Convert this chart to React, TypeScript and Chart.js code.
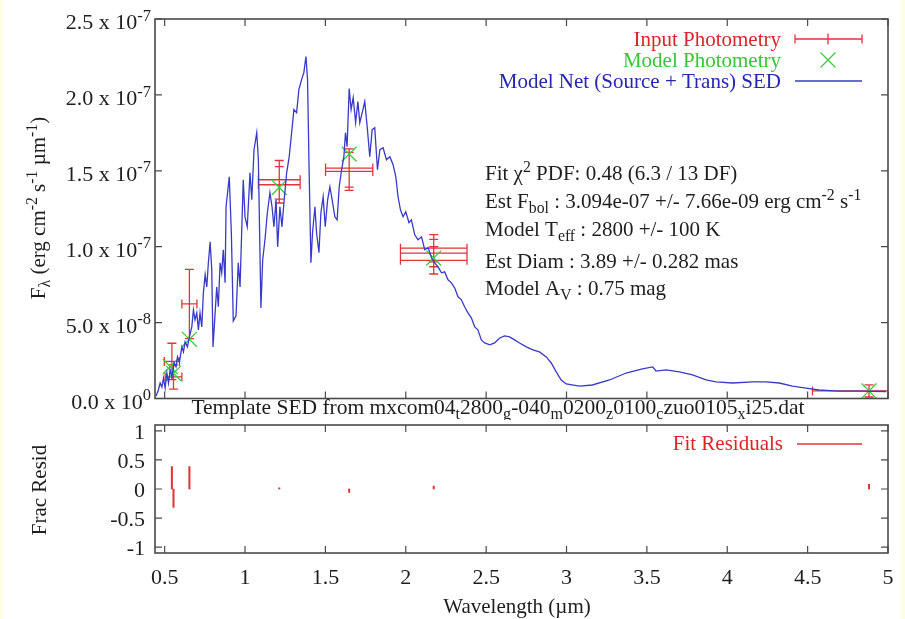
import React, { useEffect, useRef } from "react";
import { Chart, registerables } from "chart.js";

Chart.register(...registerables);

const SERIF = '"Liberation Serif", "Times New Roman", "DejaVu Serif", serif';
const FS = 21;

// Model net SED: wavelength (µm) and flux (units of 1e-7 erg cm^-2 s^-1 µm^-1)
const sedWave = [
  0.447, 0.461, 0.472, 0.483, 0.493, 0.503, 0.514, 0.524, 0.534, 0.545,
  0.559, 0.571, 0.58, 0.592, 0.607, 0.617, 0.627, 0.642, 0.654, 0.669,
  0.679, 0.689, 0.7, 0.71, 0.72, 0.731, 0.741, 0.752, 0.762, 0.772,
  0.783, 0.793, 0.801, 0.814, 0.824, 0.834, 0.845, 0.855, 0.865, 0.876,
  0.882, 0.902, 0.915, 0.927, 0.944, 0.958, 0.969, 0.989, 1.0, 1.014,
  1.031, 1.042, 1.056, 1.073, 1.083, 1.099, 1.11, 1.124, 1.139, 1.155,
  1.168, 1.18, 1.193, 1.203, 1.217, 1.23, 1.242, 1.259, 1.275, 1.29,
  1.304, 1.321, 1.335, 1.352, 1.366, 1.379, 1.389, 1.399, 1.41, 1.42,
  1.435, 1.445, 1.46, 1.472, 1.486, 1.499, 1.514, 1.528, 1.545, 1.559,
  1.573, 1.586, 1.601, 1.615, 1.625, 1.635, 1.648, 1.66, 1.673, 1.688,
  1.702, 1.714, 1.729, 1.745, 1.76, 1.776, 1.791, 1.807, 1.824, 1.839,
  1.859, 1.88, 1.901, 1.921, 1.938, 1.952, 1.967, 1.983, 2.0, 2.02,
  2.035, 2.056, 2.076, 2.098, 2.118, 2.139, 2.16, 2.18, 2.201, 2.222,
  2.242, 2.263, 2.284, 2.304, 2.325, 2.346, 2.366, 2.387, 2.408, 2.429,
  2.449, 2.47, 2.491, 2.522, 2.553, 2.584, 2.615, 2.646, 2.677, 2.708,
  2.75, 2.791, 2.832, 2.874, 2.905, 2.936, 2.967, 2.998, 3.081, 3.161,
  3.267, 3.371, 3.472, 3.536, 3.557, 3.619, 3.702, 3.784, 3.868, 3.93,
  4.033, 4.157, 4.24, 4.323, 4.406, 4.489, 4.571, 4.696, 4.82, 4.988,
];
const sedFlux = [
  0.016, 0.056, 0.102, 0.076, 0.135, 0.069, 0.168, 0.102, 0.188, 0.142,
  0.234, 0.208, 0.274, 0.241, 0.34, 0.307, 0.373, 0.34, 0.406, 0.472,
  0.584, 0.518, 0.564, 0.452, 0.564, 0.472, 0.696, 0.815, 0.735, 0.894,
  1.032, 0.848, 0.34, 0.564, 0.735, 0.604, 0.894, 0.828, 0.98, 0.762,
  1.263, 1.461, 1.092, 0.511, 0.544, 0.894, 0.735, 1.441, 1.197, 1.131,
  1.487, 1.309, 1.639, 1.751, 1.573, 0.597, 0.914, 1.046, 1.224, 1.356,
  1.263, 1.131, 1.309, 0.999, 1.263, 1.131, 1.29, 1.487, 1.593, 1.751,
  1.903, 1.883, 2.035, 2.101, 2.147, 2.253, 2.101, 1.487, 0.894, 1.092,
  1.263, 1.092, 0.96, 1.224, 1.329, 1.131, 1.309, 1.395, 1.29, 1.197,
  1.177, 1.395, 1.507, 1.593, 1.751, 1.659, 2.042, 1.903, 1.982, 1.817,
  1.956, 1.817, 1.883, 1.956, 1.791, 1.593, 1.771, 1.784, 1.507, 1.639,
  1.652, 1.573, 1.593, 1.54, 1.461, 1.329, 1.243, 1.197, 1.23, 1.158,
  1.177, 1.078, 1.046, 1.065, 0.98, 0.993, 0.927, 0.894, 0.867, 0.828,
  0.834, 0.782, 0.762, 0.729, 0.67, 0.65, 0.604, 0.564, 0.531, 0.472,
  0.452, 0.386, 0.366, 0.353, 0.366, 0.399, 0.412, 0.406, 0.386, 0.366,
  0.34, 0.32, 0.307, 0.274, 0.234, 0.175, 0.122, 0.096, 0.082, 0.089,
  0.122, 0.168, 0.195, 0.208, 0.181, 0.188, 0.175, 0.155, 0.122, 0.109,
  0.102, 0.109, 0.109, 0.102, 0.082, 0.069, 0.056, 0.049, 0.049, 0.046,
];

// Input photometry with errors (same flux units)
const photWave = [0.545, 0.555, 0.654, 1.213, 1.213, 1.648, 1.648, 2.174, 2.174, 2.174, 4.882];
const photWaveErr = [0.047, 0.052, 0.047, 0.13, 0.13, 0.147, 0.147, 0.207, 0.207, 0.207, 0.352];
const photFlux = [0.244, 0.142, 0.623, 1.441, 1.408, 1.518, 1.496, 0.99, 0.958, 0.91, 0.05];
const photFluxErr = [0.12, 0.08, 0.228, 0.127, 0.12, 0.126, 0.125, 0.09, 0.09, 0.09, 0.04];

// Model photometry
const modelWave = [0.535, 0.555, 0.654, 1.213, 1.648, 2.174, 4.882];
const modelFlux = [0.21, 0.166, 0.39, 1.39, 1.61, 0.925, 0.05];

// Fractional residuals
const residWave = [0.545, 0.555, 0.654, 1.213, 1.648, 2.174, 4.882];
const residValue = [0.385, -0.316, 0.385, 0.02, -0.06, 0.05, 0.08];

// Axes
const xTicks = [0.5, 1, 1.5, 2, 2.5, 3, 3.5, 4, 4.5, 5];
const xTickLabels = ["0.5", "1", "1.5", "2", "2.5", "3", "3.5", "4", "4.5", "5"];
const fluxTicks = [0, 0.5, 1, 1.5, 2, 2.5];
const fluxTickMantissa = ["0.0 x 10", "5.0 x 10", "1.0 x 10", "1.5 x 10", "2.0 x 10", "2.5 x 10"];
const fluxTickExponent = ["0", "-8", "-7", "-7", "-7", "-7"];
const residTicks = [-1, -0.5, 0, 0.5, 1];
const residTickLabels = ["-1", "-0.5", "0", "0.5", "1"];

const AXIS = "#4a4a4a";
const TEXT = "#1e1e1e";
const RED = "#e0353a";
const RED_TEXT = "#d8262b";
const GREEN = "#3ccc3c";
const GREEN_TEXT = "#38c438";
const BLUE = "#3a3ac8";
const BLUE_TEXT = "#2626b0";
const TICK = 7;
const CAP = 4.5;

type Seg = [string, number]; // 0 normal, 1 superscript, -1 subscript

function segFont(kind: number, size: number) {
  return `${kind === 0 ? size : size * 0.75}px ${SERIF}`;
}

function richWidth(ctx: CanvasRenderingContext2D, segs: Seg[], size: number) {
  let w = 0;
  for (const [t, k] of segs) {
    ctx.font = segFont(k, size);
    w += ctx.measureText(t).width;
  }
  return w;
}

function drawRich(
  ctx: CanvasRenderingContext2D,
  segs: Seg[],
  x: number,
  y: number,
  color: string,
  align: "left" | "right" | "center" = "left",
  size = FS
) {
  const w = richWidth(ctx, segs, size);
  let cx = align === "left" ? x : align === "right" ? x - w : x - w / 2;
  ctx.save();
  ctx.fillStyle = color;
  ctx.textAlign = "left";
  ctx.textBaseline = "alphabetic";
  for (const [t, k] of segs) {
    ctx.font = segFont(k, size);
    const dy = k === 1 ? -size * 0.38 : k === -1 ? size * 0.24 : 0;
    ctx.fillText(t, cx, y + dy);
    cx += ctx.measureText(t).width;
  }
  ctx.restore();
}

function drawFrame(chart: any, yVals: number[]) {
  const ctx: CanvasRenderingContext2D = chart.ctx;
  const { left, right, top, bottom } = chart.chartArea;
  const xs = chart.scales.x;
  const ys = chart.scales.y;
  ctx.save();
  ctx.strokeStyle = AXIS;
  ctx.lineWidth = 1.2;
  ctx.beginPath();
  for (const v of xTicks) {
    const px = xs.getPixelForValue(v);
    ctx.moveTo(px, bottom);
    ctx.lineTo(px, bottom - TICK);
    ctx.moveTo(px, top);
    ctx.lineTo(px, top + TICK);
  }
  for (const v of yVals) {
    const py = ys.getPixelForValue(v);
    ctx.moveTo(left, py);
    ctx.lineTo(left + TICK, py);
    ctx.moveTo(right, py);
    ctx.lineTo(right - TICK, py);
  }
  ctx.stroke();
  ctx.lineWidth = 1.6;
  ctx.strokeRect(left, top, right - left, bottom - top);
  ctx.restore();
}

function drawRotated(ctx: CanvasRenderingContext2D, segs: Seg[], x: number, y: number) {
  ctx.save();
  ctx.translate(x, y);
  ctx.rotate(-Math.PI / 2);
  drawRich(ctx, segs, 0, 0, TEXT, "center");
  ctx.restore();
}

const fluxPanelPlugin = {
  id: "fluxPanel",
  beforeDatasetsDraw(chart: any) {
    const ctx: CanvasRenderingContext2D = chart.ctx;
    const { left, right, top, bottom } = chart.chartArea;
    const xs = chart.scales.x;
    const ys = chart.scales.y;
    const pts = chart.data.datasets[2].data as any[];
    ctx.save();
    ctx.beginPath();
    ctx.rect(left, top, right - left, bottom - top);
    ctx.clip();
    ctx.strokeStyle = RED;
    ctx.lineWidth = 1.3;
    ctx.beginPath();
    for (const p of pts) {
      const cx = xs.getPixelForValue(p.x);
      const cy = ys.getPixelForValue(p.y);
      const x0 = xs.getPixelForValue(p.x - p.xErr);
      const x1 = xs.getPixelForValue(p.x + p.xErr);
      const y0 = ys.getPixelForValue(p.y - p.yErr);
      const y1 = ys.getPixelForValue(p.y + p.yErr);
      ctx.moveTo(x0, cy);
      ctx.lineTo(x1, cy);
      ctx.moveTo(x0, cy - CAP);
      ctx.lineTo(x0, cy + CAP);
      ctx.moveTo(x1, cy - CAP);
      ctx.lineTo(x1, cy + CAP);
      ctx.moveTo(cx, y0);
      ctx.lineTo(cx, y1);
      ctx.moveTo(cx - CAP, y0);
      ctx.lineTo(cx + CAP, y0);
      ctx.moveTo(cx - CAP, y1);
      ctx.lineTo(cx + CAP, y1);
    }
    ctx.stroke();
    ctx.restore();
  },
  afterDraw(chart: any) {
    const ctx: CanvasRenderingContext2D = chart.ctx;
    const ys = chart.scales.y;
    drawFrame(chart, fluxTicks);

    // y tick labels with power-of-ten exponents
    fluxTicks.forEach((v, i) => {
      const py = ys.getPixelForValue(v);
      drawRich(ctx, [[fluxTickMantissa[i], 0], [fluxTickExponent[i], 1]], 151, py + 10, TEXT, "right", 22);
    });

    drawRotated(
      ctx,
      [["F", 0], ["λ", -1], [" (erg cm", 0], ["-2", 1], [" s", 0], ["-1", 1], [" µm", 0], ["-1", 1], [")", 0]],
      45,
      208
    );

    drawRich(
      ctx,
      [
        ["Template SED from mxcom04", 0], ["t", -1], ["2800", 0], ["g", -1], ["-040", 0], ["m", -1],
        ["0200", 0], ["z", -1], ["0100", 0], ["c", -1], ["zuo0105", 0], ["x", -1], ["i25.dat", 0],
      ],
      498,
      414,
      TEXT,
      "center",
      21.5
    );

    // legend
    const sx0 = 795;
    const sx1 = 862;
    const sxc = 828;
    drawRich(ctx, [["Input Photometry", 0]], 781, 46, RED_TEXT, "right");
    drawRich(ctx, [["Model Photometry", 0]], 781, 67, GREEN_TEXT, "right");
    drawRich(ctx, [["Model Net (Source + Trans) SED", 0]], 781, 88, BLUE_TEXT, "right");
    ctx.save();
    ctx.lineWidth = 1.3;
    ctx.strokeStyle = RED;
    ctx.beginPath();
    const ly = 39;
    ctx.moveTo(sx0, ly);
    ctx.lineTo(sx1, ly);
    ctx.moveTo(sx0, ly - CAP);
    ctx.lineTo(sx0, ly + CAP);
    ctx.moveTo(sx1, ly - CAP);
    ctx.lineTo(sx1, ly + CAP);
    ctx.moveTo(sxc, ly - CAP - 1);
    ctx.lineTo(sxc, ly + CAP + 1);
    ctx.stroke();
    ctx.strokeStyle = GREEN;
    ctx.beginPath();
    const gy = 60;
    const g = 7.5;
    ctx.moveTo(sxc - g, gy - g);
    ctx.lineTo(sxc + g, gy + g);
    ctx.moveTo(sxc - g, gy + g);
    ctx.lineTo(sxc + g, gy - g);
    ctx.stroke();
    ctx.strokeStyle = BLUE;
    ctx.beginPath();
    ctx.moveTo(sx0, 81);
    ctx.lineTo(sx1, 81);
    ctx.stroke();
    ctx.restore();

    // fit summary
    const ax = 485;
    drawRich(ctx, [["Fit ", 0], ["χ", 0], ["2", 1], [" PDF: 0.48 (6.3 / 13 DF)", 0]], ax, 180, TEXT);
    drawRich(
      ctx,
      [["Est F", 0], ["bol", -1], [" : 3.094e-07 +/- 7.66e-09 erg cm", 0], ["-2", 1], [" s", 0], ["-1", 1]],
      ax,
      208,
      TEXT
    );
    drawRich(ctx, [["Model T", 0], ["eff", -1], [" : 2800 +/- 100 K", 0]], ax, 236, TEXT);
    drawRich(ctx, [["Est Diam : 3.89 +/- 0.282 mas", 0]], ax, 268, TEXT);
    drawRich(ctx, [["Model A", 0], ["V", -1], [" : 0.75 mag", 0]], ax, 295, TEXT);
  },
};

const residPanelPlugin = {
  id: "residPanel",
  afterDraw(chart: any) {
    const ctx: CanvasRenderingContext2D = chart.ctx;
    const xs = chart.scales.x;
    const ys = chart.scales.y;
    const { bottom } = chart.chartArea;
    drawFrame(chart, residTicks);

    residTicks.forEach((v, i) => {
      drawRich(ctx, [[residTickLabels[i], 0]], 145, ys.getPixelForValue(v) + 8, TEXT, "right", 22);
    });
    xTicks.forEach((v, i) => {
      drawRich(ctx, [[xTickLabels[i], 0]], xs.getPixelForValue(v), bottom + 31, TEXT, "center", 22);
    });
    drawRotated(ctx, [["Frac Resid", 0]], 46, 70);
    drawRich(ctx, [["Wavelength (µm)", 0]], 517, bottom + 60, TEXT, "center");

    drawRich(ctx, [["Fit Residuals", 0]], 783, 30, RED_TEXT, "right");
    ctx.save();
    ctx.strokeStyle = RED;
    ctx.lineWidth = 1.3;
    ctx.beginPath();
    ctx.moveTo(797, 24);
    ctx.lineTo(862, 24);
    ctx.stroke();
    ctx.restore();
  },
};

export default function App() {
  const topRef = useRef<HTMLCanvasElement>(null);
  const botRef = useRef<HTMLCanvasElement>(null);

  useEffect(() => {
    const fluxChart = new Chart(topRef.current as HTMLCanvasElement, {
      type: "scatter",
      data: {
        datasets: [
          {
            label: "Model Net (Source + Trans) SED",
            data: sedWave.map((x, i) => ({ x, y: sedFlux[i] })),
            showLine: true,
            borderColor: BLUE,
            borderWidth: 1.3,
            pointRadius: 0,
            order: 0,
          },
          {
            label: "Model Photometry",
            data: modelWave.map((x, i) => ({ x, y: modelFlux[i] })),
            pointStyle: "crossRot",
            pointRadius: 10.5,
            borderColor: GREEN,
            backgroundColor: GREEN,
            borderWidth: 1.3,
            order: 1,
          },
          {
            label: "Input Photometry",
            data: photWave.map((x, i) => ({
              x,
              y: photFlux[i],
              xErr: photWaveErr[i],
              yErr: photFluxErr[i],
            })),
            pointRadius: 0,
            borderColor: RED,
            order: 2,
          },
        ] as any,
      },
      options: {
        responsive: false,
        animation: false,
        events: [],
        layout: { padding: { left: 155, right: 17, top: 19, bottom: 21.5 } },
        plugins: { legend: { display: false }, tooltip: { enabled: false } },
        scales: {
          x: { type: "linear", min: 0.44, max: 5, display: false },
          y: { type: "linear", min: 0, max: 2.5, display: false },
        },
      },
      plugins: [fluxPanelPlugin],
    });

    const residChart = new Chart(botRef.current as HTMLCanvasElement, {
      type: "bar",
      data: {
        datasets: [
          {
            label: "Fit Residuals",
            data: residWave.map((x, i) => ({ x, y: residValue[i] })),
            backgroundColor: RED,
            borderWidth: 0,
            barThickness: 1.4,
          },
        ] as any,
      },
      options: {
        responsive: false,
        animation: false,
        events: [],
        layout: { padding: { left: 155, right: 17, top: 5, bottom: 66 } },
        plugins: { legend: { display: false }, tooltip: { enabled: false } },
        scales: {
          x: { type: "linear", min: 0.44, max: 5, offset: false, display: false },
          y: { type: "linear", min: -1.1, max: 1.1, display: false },
        },
      },
      plugins: [residPanelPlugin],
    });

    return () => {
      fluxChart.destroy();
      residChart.destroy();
    };
  }, []);

  return (
    <div
      style={{
        position: "fixed",
        left: 0,
        top: 0,
        width: 905,
        height: 619,
        background: "#fdfde4",
        overflow: "hidden",
      }}
    >
      <div style={{ position: "absolute", left: 3, top: 0, width: 898, height: 619, background: "#ffffff" }} />
      <canvas ref={topRef} width={905} height={420} style={{ position: "absolute", left: 0, top: 0 }} />
      <canvas ref={botRef} width={905} height={199} style={{ position: "absolute", left: 0, top: 420 }} />
    </div>
  );
}
